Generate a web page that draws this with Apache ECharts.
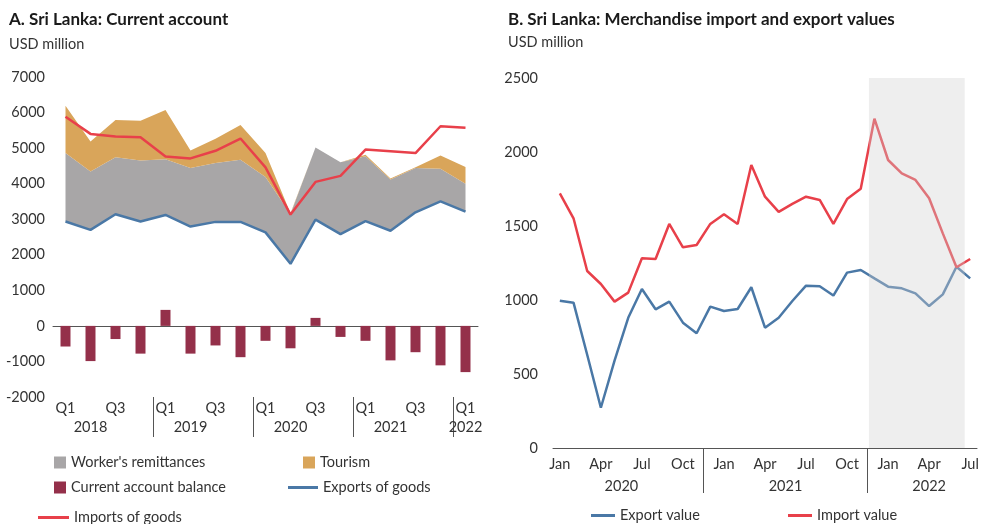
<!DOCTYPE html>
<html>
<head>
<meta charset="utf-8">
<script src="https://cdn.jsdelivr.net/npm/echarts@6/dist/echarts.min.js"></script>
<style>
html, body { margin: 0; padding: 0; background: #fff; }
#main { width: 982px; height: 524px; }
</style>
</head>
<body>
<div id="main"></div>
<script>
// A. current account, quarterly, USD million
var quarters = ['2018Q1', '2018Q2', '2018Q3', '2018Q4', '2019Q1', '2019Q2', '2019Q3', '2019Q4',
    '2020Q1', '2020Q2', '2020Q3', '2020Q4', '2021Q1', '2021Q2', '2021Q3', '2021Q4', '2022Q1'];
var exportsGoods = [2935, 2700, 3140, 2935, 3120, 2795, 2925, 2925, 2630, 1745, 2990, 2580, 2945, 2675, 3195, 3500, 3215];
var remittances = [1925, 1640, 1600, 1720, 1570, 1645, 1655, 1750, 1560, 1405, 2030, 2020, 1825, 1440, 1245, 920, 780];
var tourism = [1330, 845, 1050, 1115, 1380, 495, 680, 975, 670, 20, 0, 0, 40, 30, 20, 375, 475];
var caBalance = [-580, -990, -370, -780, 450, -780, -550, -880, -420, -630, 225, -310, -420, -970, -740, -1110, -1300];
var importsGoods = [5880, 5400, 5325, 5305, 4765, 4710, 4925, 5270, 4460, 3130, 4050, 4220, 4960, 4915, 4860, 5615, 5575];
// x-axis text for panel A
var yearsA = ['2018', '2019', '2020', '2021', '2022'];
var yearLabelAtA = [1, 5, 9, 13, 16];
var yearBreaksA = [3.5, 7.5, 11.5, 15.5];

// B. merchandise trade, monthly, USD million
var months = ['Jan 2020', 'Feb 2020', 'Mar 2020', 'Apr 2020', 'May 2020', 'Jun 2020', 'Jul 2020', 'Aug 2020',
    'Sep 2020', 'Oct 2020', 'Nov 2020', 'Dec 2020', 'Jan 2021', 'Feb 2021', 'Mar 2021', 'Apr 2021', 'May 2021',
    'Jun 2021', 'Jul 2021', 'Aug 2021', 'Sep 2021', 'Oct 2021', 'Nov 2021', 'Dec 2021', 'Jan 2022', 'Feb 2022',
    'Mar 2022', 'Apr 2022', 'May 2022', 'Jun 2022', 'Jul 2022'];
var exportValue = [995, 982, 630, 272, 590, 880, 1074, 937, 989, 847, 775, 955, 926, 939, 1086, 813, 880,
    993, 1097, 1093, 1030, 1185, 1203, 1146, 1090, 1079, 1045, 959, 1038, 1225, 1146];
var importValue = [1721, 1552, 1196, 1108, 989, 1050, 1282, 1277, 1514, 1356, 1372, 1514, 1579, 1514, 1912, 1698, 1595,
    1649, 1698, 1676, 1514, 1682, 1752, 2225, 1946, 1856, 1811, 1687, 1450, 1221, 1277];
var yearsB = ['2020', '2021', '2022'];
var yearLabelAtB = [4.5, 16.5, 27];
var yearBreaksB = [10.5, 22.5];
var shadeB = [22.6, 29.6];

var font = 'Lato';
var txt = '#333';
var grey = '#a8a6a7', tan = '#d9a55a', maroon = '#94304a', blue = '#4a78a6', red = '#e8404a';
var fs = 14.5;

var myChart = echarts.init(document.getElementById('main'));

function legendItem(name, left, top, w, h) {
    return {
        data: [name], left: left, top: top, padding: 0,
        icon: 'rect', itemWidth: w, itemHeight: h,
        textStyle: { fontFamily: font, fontSize: fs, color: txt }
    };
}

function plain(v) { return String(v); }

var qLabelAt = quarters.map(function (q, i) { return i; }).filter(function (i) { return i % 2 === 0; });

option = {
    animation: false,
    textStyle: { fontFamily: font },
    title: [
        { text: 'A. Sri Lanka: Current account', left: 9, top: 11, padding: 0,
          textStyle: { fontFamily: font, fontSize: 17, fontWeight: 'bold', color: '#1a1a1a' } },
        { text: 'USD million', left: 9, top: 37, padding: 0,
          textStyle: { fontFamily: font, fontSize: fs, fontWeight: 'normal', color: txt } },
        { text: 'B. Sri Lanka: Merchandise import and export values', left: 508, top: 11, padding: 0,
          textStyle: { fontFamily: font, fontSize: 17, fontWeight: 'bold', color: '#1a1a1a' } },
        { text: 'USD million', left: 508, top: 35, padding: 0,
          textStyle: { fontFamily: font, fontSize: fs, fontWeight: 'normal', color: txt } }
    ],
    legend: [
        legendItem("Worker's remittances", 54, 455, 12, 12),
        legendItem('Tourism', 303, 455, 12, 12),
        legendItem('Current account balance', 54, 480, 12, 12),
        legendItem('Exports of goods', 288, 480, 30, 3),
        legendItem('Imports of goods', 38, 510, 31, 3),
        legendItem('Export value', 591, 508, 24, 3),
        legendItem('Import value', 788, 508, 24, 3)
    ],
    grid: [
        { left: 53, right: 504, top: 77, bottom: 127 },
        { left: 553, right: 5, top: 78, bottom: 76 }
    ],
    xAxis: [
        {
            type: 'category', gridIndex: 0, data: quarters, position: 'bottom',
            axisLine: { onZero: true, lineStyle: { color: '#555', width: 1 } },
            axisTick: { show: false },
            axisLabel: { show: false }
        },
        {
            type: 'value', gridIndex: 0, min: -0.5, max: quarters.length - 0.5, position: 'bottom',
            axisLine: { show: false, onZero: false },
            splitLine: { show: false },
            axisTick: { show: true, customValues: yearBreaksA, length: 40, lineStyle: { color: '#555' } },
            axisLabel: {
                customValues: qLabelAt, margin: 4, fontSize: fs, color: txt,
                formatter: function (v) { return quarters[Math.round(v)].slice(4); }
            }
        },
        {
            type: 'value', gridIndex: 0, min: -0.5, max: quarters.length - 0.5, position: 'bottom',
            axisLine: { show: false, onZero: false },
            splitLine: { show: false },
            axisTick: { show: false },
            axisLabel: {
                customValues: yearLabelAtA, margin: 23, fontSize: fs, color: txt,
                formatter: function (v) { return yearsA[yearLabelAtA.indexOf(v)]; }
            }
        },
        {
            type: 'category', gridIndex: 1, data: months, position: 'bottom',
            axisLine: { onZero: false, lineStyle: { color: '#555', width: 1 } },
            axisTick: { show: false },
            axisLabel: {
                interval: 2, margin: 9, fontSize: fs, color: txt,
                formatter: function (v) { return v.split(' ')[0]; }
            }
        },
        {
            type: 'value', gridIndex: 1, min: -0.5, max: months.length - 0.5, position: 'bottom',
            axisLine: { show: false, onZero: false },
            splitLine: { show: false },
            axisTick: { show: true, customValues: yearBreaksB, length: 45, lineStyle: { color: '#555' } },
            axisLabel: {
                customValues: yearLabelAtB, margin: 31, fontSize: fs, color: txt,
                formatter: function (v) { return yearsB[yearLabelAtB.indexOf(v)]; }
            }
        }
    ],
    yAxis: [
        {
            type: 'value', gridIndex: 0, min: -2000, max: 7000, interval: 1000,
            axisLine: { show: false }, axisTick: { show: false }, splitLine: { show: false },
            axisLabel: { fontSize: fs, color: txt, margin: 8, formatter: plain }
        },
        {
            type: 'value', gridIndex: 1, min: 0, max: 2500, interval: 500,
            axisLine: { show: false }, axisTick: { show: false }, splitLine: { show: false },
            axisLabel: { fontSize: fs, color: txt, margin: 15, formatter: plain }
        }
    ],
    series: [
        {
            name: 'Exports of goods', type: 'line', xAxisIndex: 0, yAxisIndex: 0, stack: 'ca',
            data: exportsGoods, symbol: 'none', z: 5,
            lineStyle: { color: blue, width: 2.5 }, itemStyle: { color: blue }
        },
        {
            name: "Worker's remittances", type: 'line', xAxisIndex: 0, yAxisIndex: 0, stack: 'ca',
            data: remittances, symbol: 'none', z: 2,
            lineStyle: { width: 0 }, itemStyle: { color: grey }, areaStyle: { color: grey, opacity: 1 }
        },
        {
            name: 'Tourism', type: 'line', xAxisIndex: 0, yAxisIndex: 0, stack: 'ca',
            data: tourism, symbol: 'none', z: 2,
            lineStyle: { width: 0 }, itemStyle: { color: tan }, areaStyle: { color: tan, opacity: 1 }
        },
        {
            name: 'Current account balance', type: 'bar', xAxisIndex: 0, yAxisIndex: 0,
            data: caBalance, barWidth: 10, itemStyle: { color: maroon }
        },
        {
            name: 'Imports of goods', type: 'line', xAxisIndex: 0, yAxisIndex: 0,
            data: importsGoods, symbol: 'none', z: 6,
            lineStyle: { color: red, width: 2.5 }, itemStyle: { color: red }
        },
        {
            name: 'Export value', type: 'line', xAxisIndex: 3, yAxisIndex: 1,
            data: exportValue, symbol: 'none', z: 5,
            lineStyle: { color: blue, width: 2.5 }, itemStyle: { color: blue }
        },
        {
            name: 'Import value', type: 'line', xAxisIndex: 3, yAxisIndex: 1,
            data: importValue, symbol: 'none', z: 5,
            lineStyle: { color: red, width: 2.5 }, itemStyle: { color: red }
        },
        {
            // forecast shading, drawn over the lines so they fade inside it
            type: 'line', xAxisIndex: 4, yAxisIndex: 1, data: [], silent: true,
            markArea: {
                silent: true, z: 10,
                itemStyle: { color: 'rgba(208,208,208,0.36)' },
                data: [[{ xAxis: shadeB[0] }, { xAxis: shadeB[1] }]]
            }
        }
    ]
};

myChart.setOption(option);
</script>
</body>
</html>
